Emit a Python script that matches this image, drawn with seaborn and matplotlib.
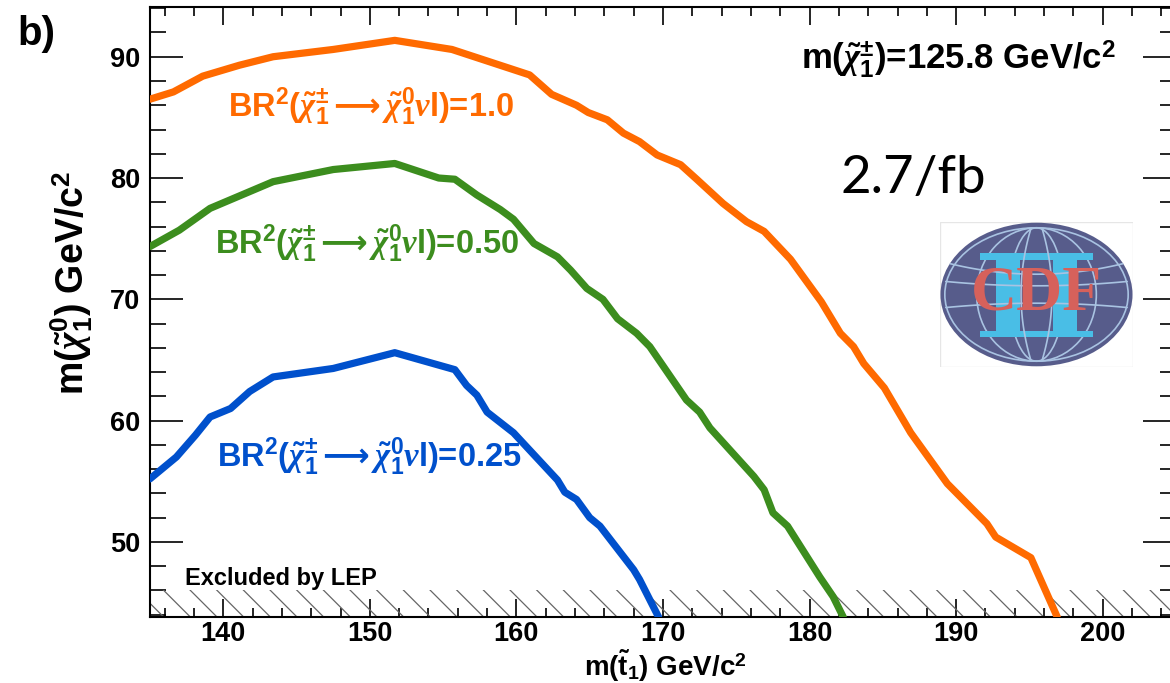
import numpy as np
import pandas as pd
import matplotlib
matplotlib.use("Agg")
import matplotlib.pyplot as plt
import seaborn as sns
from matplotlib.patches import Ellipse, Rectangle
from matplotlib.ticker import MultipleLocator

# ---------------- data ----------------
stop_mass_br100 = [135.0, 136.6, 138.6, 141.1, 143.4, 147.5, 151.7, 155.6, 160.9, 162.4,
                   164.1, 164.9, 166.2, 167.3, 168.4, 169.6, 171.2, 172.3, 174.1, 175.7,
                   176.9, 178.7, 180.8, 182.1, 183.0, 183.7, 185.1, 186.9, 189.4, 192.1,
                   192.7, 195.1, 196.9]
lsp_mass_br100 = [86.5, 87.1, 88.4, 89.3, 90.0, 90.6, 91.35, 90.6, 88.5, 86.9,
                  86.0, 85.4, 84.8, 83.7, 83.0, 81.9, 81.1, 79.9, 77.9, 76.4,
                  75.6, 73.3, 69.8, 67.2, 66.1, 64.7, 62.7, 59.0, 54.8, 51.5,
                  50.4, 48.7, 43.8]

stop_mass_br050 = [135.0, 137.0, 139.1, 143.4, 147.5, 151.7, 154.7, 155.8, 157.3, 158.9,
                   159.8, 161.2, 162.8, 163.7, 164.8, 165.9, 166.9, 168.2, 169.1, 171.6,
                   172.5, 173.2, 176.2, 176.9, 177.5, 178.5, 180.7, 181.6, 182.3]
lsp_mass_br050 = [74.35, 75.7, 77.5, 79.7, 80.7, 81.2, 80.0, 79.9, 78.6, 77.4,
                  76.6, 74.6, 73.5, 72.4, 70.9, 70.0, 68.4, 67.2, 66.1, 61.7,
                  60.7, 59.4, 55.4, 54.3, 52.4, 51.3, 47.1, 45.5, 43.8]

stop_mass_br025 = [135.0, 136.8, 138.1, 139.1, 140.5, 141.8, 143.4, 147.5, 151.7, 155.8,
                   156.6, 157.3, 158.0, 159.8, 162.8, 163.3, 164.1, 165.0, 165.7, 168.0,
                   168.4, 169.7]
lsp_mass_br025 = [55.2, 57.0, 58.8, 60.3, 61.0, 62.4, 63.6, 64.3, 65.6, 64.2,
                  62.9, 62.1, 60.7, 59.0, 55.1, 54.1, 53.5, 52.0, 51.3, 47.7,
                  46.9, 43.8]

lep_limit = 46.0
curve_labels = [
    r"BR$^{2}$($\tilde{\chi}_{1}^{\pm}\mathtt{\longrightarrow}\tilde{\chi}_{1}^{0}\nu$l)=1.0",
    r"BR$^{2}$($\tilde{\chi}_{1}^{\pm}\mathtt{\longrightarrow}\tilde{\chi}_{1}^{0}\nu$l)=0.50",
    r"BR$^{2}$($\tilde{\chi}_{1}^{\pm}\mathtt{\longrightarrow}\tilde{\chi}_{1}^{0}\nu$l)=0.25",
]
x_title = r"m($\tilde{\mathrm{t}}_{1}$) GeV/c$^{2}$"
y_title = r"m($\tilde{\chi}_{1}^{0}$) GeV/c$^{2}$"
chargino_text = r"m($\tilde{\chi}_{1}^{\pm}$)=125.8 GeV/c$^{2}$"
lumi_text = "2.7/fb"
panel_text = "b)"
lep_text = "Excluded by LEP"
x_ticks = [140, 150, 160, 170, 180, 190, 200]
y_ticks = [50, 60, 70, 80, 90]

# ---------------- style ----------------
ORANGE = "#FF6A00"
GREEN = "#3C8D1E"
BLUE = "#0050CC"
X_RANGE = (135.0, 205.0)
Y_RANGE = (43.85, 94.1)

W, H = 1170, 683
DPI = 160
S = 100.0 / DPI          # sizes below are given as "points at 100 dpi"


def pt(v):
    return v * S


sns.set_theme(style="ticks")
plt.rcParams["font.family"] = ["Liberation Sans", "DejaVu Sans"]
plt.rcParams["font.weight"] = "bold"
plt.rcParams["mathtext.fontset"] = "custom"
plt.rcParams["mathtext.rm"] = "Liberation Sans:bold"
plt.rcParams["mathtext.bf"] = "Liberation Sans:bold"
plt.rcParams["mathtext.sf"] = "Liberation Sans:bold"
plt.rcParams["mathtext.it"] = "Liberation Serif:italic"
plt.rcParams["mathtext.tt"] = "DejaVu Sans"
plt.rcParams["mathtext.fallback"] = "stix"
plt.rcParams["hatch.linewidth"] = pt(0.9)

fig = plt.figure(figsize=(W / DPI, H / DPI), dpi=DPI)
fig.patch.set_facecolor("white")
ax = fig.add_axes([150 / W, (H - 616.5) / H, 1026 / W, 609.5 / H])

# LEP excluded band
ax.fill_between(list(X_RANGE), Y_RANGE[0], lep_limit, facecolor="none",
                edgecolor="#666666", hatch="\\\\", linewidth=0, zorder=1)

for xs, ys, col in [(stop_mass_br100, lsp_mass_br100, ORANGE),
                    (stop_mass_br050, lsp_mass_br050, GREEN),
                    (stop_mass_br025, lsp_mass_br025, BLUE)]:
    sns.lineplot(x=xs, y=ys, color=col, linewidth=pt(5.2), sort=False, estimator=None,
                 ax=ax, zorder=3)

ax.set_xlim(*X_RANGE)
ax.set_ylim(*Y_RANGE)
ax.set_xticks(x_ticks)
ax.set_yticks(y_ticks)
ax.xaxis.set_minor_locator(MultipleLocator(2))
ax.yaxis.set_minor_locator(MultipleLocator(2))
ax.tick_params(which="both", direction="in", top=True, right=True,
               color="black", width=pt(1.2), labelsize=pt(19.5), labelcolor="black")
ax.tick_params(axis="x", which="major", length=pt(13), pad=pt(3))
ax.tick_params(axis="x", which="minor", length=pt(6.5))
ax.tick_params(axis="y", which="major", length=pt(24), pad=pt(7))
ax.tick_params(axis="y", which="minor", length=pt(11.5))
for sp in ax.spines.values():
    sp.set_visible(True)
    sp.set_color("black")
    sp.set_linewidth(pt(1.5))

ax.set_xlabel(x_title, fontsize=pt(20), fontweight="bold", color="black")
ax.xaxis.set_label_coords((665 - 150) / 1026, -(665.5 - 616.5) / 609.5)
ax.xaxis.label.set_va("center")
ax.set_ylabel(y_title, fontsize=pt(27), fontweight="bold", color="black")
ax.yaxis.label.set_va("center")
ax.yaxis.set_label_coords(-(150 - 72) / 1026, (616.5 - 283) / 609.5)

# curve labels
lab_kw = dict(fontsize=pt(23.5), fontweight="bold", ha="left", va="baseline", zorder=4)
ax.text(140.35, 85.05, curve_labels[0], color=ORANGE, **lab_kw)
ax.text(139.44, 73.75, curve_labels[1], color=GREEN, **lab_kw)
ax.text(139.6, 56.2, curve_labels[2], color=BLUE, **lab_kw)

ax.text(179.44, 88.93, chargino_text, color="black", fontsize=pt(25), fontweight="bold",
        ha="left", va="baseline")
ax.text(182.1, 78.8, lumi_text, color="black", fontsize=pt(38), fontweight="normal",
        family=["Lato", "DejaVu Sans"], ha="left", va="baseline")
ax.text(137.39, 46.45, lep_text, color="black", fontsize=pt(17), fontweight="bold",
        ha="left", va="baseline")
fig.text(17 / W, 1 - 45 / H, panel_text, fontsize=pt(29), fontweight="bold",
         ha="left", va="baseline", color="black")

# ---------------- CDF II logo ----------------
lax = fig.add_axes([940 / W, (H - 367) / H, 193 / W, 145 / H])
lax.set_xlim(0, 1)
lax.set_ylim(0, 1)
lax.axis("off")
lax.add_patch(Rectangle((0, 0), 1, 1, facecolor="white", edgecolor="#E6E6E6", lw=pt(1)))
body = Ellipse((0.5, 0.5), 0.995, 0.99, facecolor="#575C8B", edgecolor="none")
lax.add_patch(body)
grid_col = "#A9C3E2"
glw = pt(1.2)
lax.add_patch(Ellipse((0.5, 0.5), 0.95, 0.92, facecolor="none", edgecolor=grid_col, lw=glw))
for wdt in [0.62, 0.28]:
    e = Ellipse((0.5, 0.5), wdt, 0.92, facecolor="none", edgecolor=grid_col, lw=glw)
    lax.add_patch(e)
t = np.linspace(0, 1, 100)
for yc, k in [(0.64, 0.08), (0.56, 0.03), (0.44, -0.03)]:
    xx = 0.03 + 0.94 * t
    yy = yc + k * ((xx - 0.5) / 0.47) ** 2
    ln, = lax.plot(xx, yy, color=grid_col, lw=glw)
    ln.set_clip_path(body)
for xc, k in [(0.47, -0.05), (0.53, 0.05)]:
    yy = np.linspace(0.05, 0.95, 100)
    xx = xc + k * (1 - ((yy - 0.5) / 0.45) ** 2)
    ln, = lax.plot(xx, yy, color=grid_col, lw=glw)
    ln.set_clip_path(body)
cyan = "#49BEE6"
lax.add_patch(Rectangle((0.207, 0.738), 0.586, 0.05, facecolor=cyan, edgecolor="none"))
lax.add_patch(Rectangle((0.207, 0.205), 0.586, 0.045, facecolor=cyan, edgecolor="none"))
lax.add_patch(Rectangle((0.29, 0.245), 0.125, 0.5, facecolor=cyan, edgecolor="none"))
lax.add_patch(Rectangle((0.585, 0.245), 0.125, 0.5, facecolor=cyan, edgecolor="none"))
lax.text(0.5, 0.5, "CDF", color="#D6615B", fontsize=pt(46), fontweight="bold",
         family=["Liberation Serif", "DejaVu Serif"], ha="center", va="center")

fig.savefig("out.png", dpi=DPI, facecolor="white")
